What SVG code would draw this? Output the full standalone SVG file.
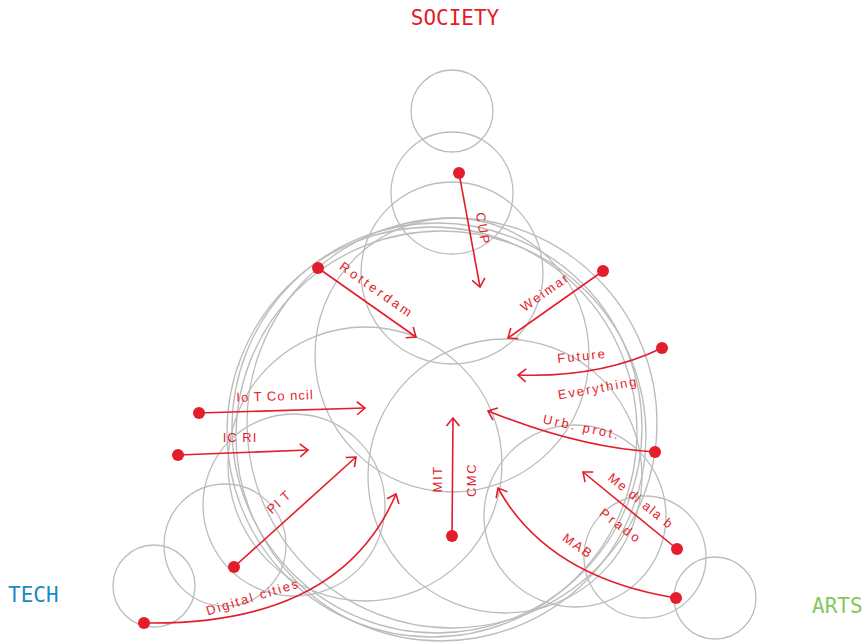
<svg xmlns="http://www.w3.org/2000/svg" width="866" height="642" viewBox="0 0 866 642">
<style>
.c{fill:none;stroke:#bcbcbc;stroke-width:1.3}
.ln{fill:none;stroke:#e31d2b;stroke-width:1.6}
.dot{fill:#e31d2b}
.lb{font-family:"Liberation Sans",Arial,sans-serif;font-size:13px;fill:#e31d2b;text-anchor:middle}
.hd{font-family:"DejaVu Sans Mono","Liberation Mono",monospace;font-size:21px}
</style>
<defs>
<marker id="ah" markerUnits="userSpaceOnUse" markerWidth="20" markerHeight="20" refX="0" refY="0" orient="auto" overflow="visible">
<path d="M-8,-6.5 L0,0 L-8,6.5" fill="none" stroke="#e31d2b" stroke-width="1.6"/>
</marker>
</defs>
<rect width="866" height="642" fill="#fff"/>
<g id="circles">
<circle class="c" cx="452" cy="111" r="41"/>
<circle class="c" cx="452" cy="193" r="61"/>
<circle class="c" cx="452" cy="273" r="91"/>
<circle class="c" cx="452" cy="355" r="137"/>
<circle class="c" cx="154" cy="586" r="41"/>
<circle class="c" cx="225" cy="545" r="61"/>
<circle class="c" cx="294" cy="505" r="91"/>
<circle class="c" cx="365" cy="464" r="137"/>
<circle class="c" cx="715" cy="598" r="41"/>
<circle class="c" cx="645" cy="557" r="61"/>
<circle class="c" cx="575" cy="516" r="91"/>
<circle class="c" cx="505" cy="476" r="137"/>
<circle class="c" cx="452" cy="423" r="205"/>
<circle class="c" cx="432" cy="432" r="205"/>
<circle class="c" cx="437" cy="428" r="205"/>
<circle class="c" cx="441" cy="436" r="205"/>
</g>
<g id="connectors">
<path class="ln" d="M459,173 L480,287" marker-end="url(#ah)"/>
<path class="ln" d="M318,268 L416,337" marker-end="url(#ah)"/>
<path class="ln" d="M603,271 L508,338" marker-end="url(#ah)"/>
<path class="ln" d="M662,348 Q600,378 518,375" marker-end="url(#ah)"/>
<path class="ln" d="M655,452 Q580,448 488,411" marker-end="url(#ah)"/>
<path class="ln" d="M677,549 L583,472" marker-end="url(#ah)"/>
<path class="ln" d="M676,598 Q547,577 498,488" marker-end="url(#ah)"/>
<path class="ln" d="M452,536 L453,418" marker-end="url(#ah)"/>
<path class="ln" d="M199,413 L365,408" marker-end="url(#ah)"/>
<path class="ln" d="M178,455 L308,450" marker-end="url(#ah)"/>
<path class="ln" d="M234,567 L356,457" marker-end="url(#ah)"/>
<path class="ln" d="M144,623 Q340,626 396,494" marker-end="url(#ah)"/>
</g>
<g id="n-cup"><circle class="dot" cx="459" cy="173" r="6"/><text class="lb" transform="translate(483,229) rotate(80)" y="4.5" letter-spacing="2">CUP</text></g>
<g id="n-rotterdam"><circle class="dot" cx="318" cy="268" r="6"/><text class="lb" transform="translate(377,290) rotate(35)" y="4.5" letter-spacing="3">Rotterdam</text></g>
<g id="n-weimar"><circle class="dot" cx="603" cy="271" r="6"/><text class="lb" transform="translate(545,292) rotate(-35)" y="4.5" letter-spacing="2">Weimar</text></g>
<g id="n-future"><circle class="dot" cx="662" cy="348" r="6"/><text class="lb" transform="translate(582,356) rotate(-6)" y="4.5" letter-spacing="2">Future</text><text class="lb" transform="translate(598,388) rotate(-10)" y="4.5" letter-spacing="2">Everything</text></g>
<g id="n-urb"><circle class="dot" cx="655" cy="452" r="6"/><text class="lb" transform="translate(582,427) rotate(12)" y="4.5" letter-spacing="2.5">Urb. prot.</text></g>
<g id="n-medialab"><circle class="dot" cx="677" cy="549" r="6"/><text class="lb" transform="translate(641,501) rotate(39)" y="4.5" letter-spacing="1.5">Me di ala b</text><text class="lb" transform="translate(621,526) rotate(37)" y="4.5" letter-spacing="3">Prado</text></g>
<g id="n-mab"><circle class="dot" cx="676" cy="598" r="6"/><text class="lb" transform="translate(578,546) rotate(35)" y="4.5" letter-spacing="2">MAB</text></g>
<g id="n-mit"><circle class="dot" cx="452" cy="536" r="6"/><text class="lb" transform="translate(437,479) rotate(-90)" y="4.5" letter-spacing="1.5">MIT</text><text class="lb" transform="translate(471,480) rotate(-90)" y="4.5" letter-spacing="1.5">CMC</text></g>
<g id="n-iot"><circle class="dot" cx="199" cy="413" r="6"/><text class="lb" transform="translate(275,396) rotate(-2)" y="4.5" letter-spacing="1">Io T Co ncil</text></g>
<g id="n-icri"><circle class="dot" cx="178" cy="455" r="6"/><text class="lb" transform="translate(240,437)" y="4.5" letter-spacing="1">IC RI</text></g>
<g id="n-pit"><circle class="dot" cx="234" cy="567" r="6"/><text class="lb" transform="translate(279,502) rotate(-42)" y="4.5" letter-spacing="1">PI T</text></g>
<g id="n-digital"><circle class="dot" cx="144" cy="623" r="6"/><text class="lb" transform="translate(253,597) rotate(-17)" y="4.5" letter-spacing="2">Digital cities</text></g>
<g id="society"><text class="hd" x="455" y="25" text-anchor="middle" fill="#e31d2b">SOCIETY</text></g>
<g id="tech"><text class="hd" x="8" y="602" fill="#1b8ac6">TECH</text></g>
<g id="arts"><text class="hd" x="812" y="613" fill="#84c85e">ARTS</text></g>
</svg>
